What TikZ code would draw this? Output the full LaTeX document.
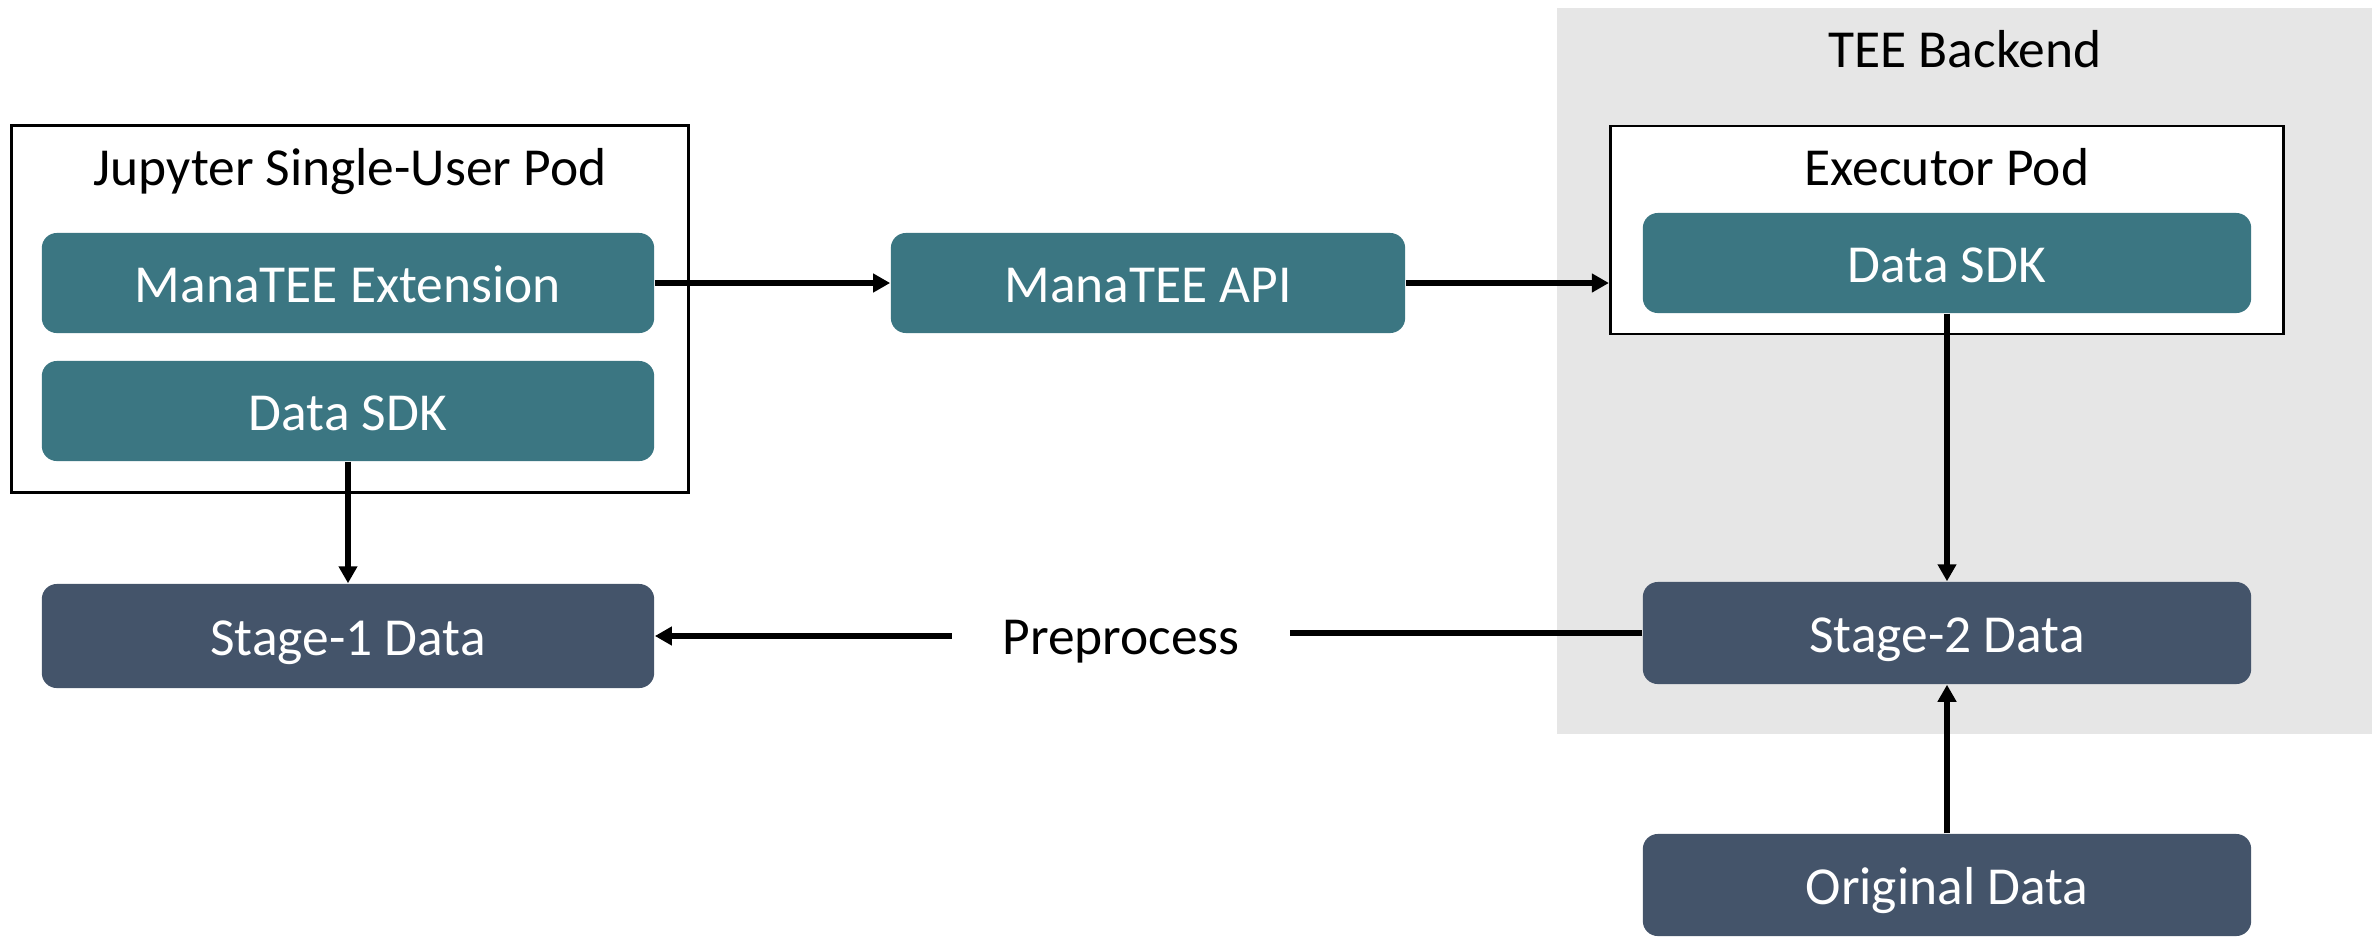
\documentclass[tikz,border=0pt]{standalone}
\usepackage{fontspec}
\setmainfont{Carlito}
\usetikzlibrary{arrows.meta}
\definecolor{tealbox}{HTML}{3B7682}
\definecolor{slatebox}{HTML}{44546A}
\definecolor{teegrey}{HTML}{E6E6E6}
\tikzset{
  txt/.style={font=\fontsize{15.2}{18}\selectfont, text height=1.0em, text depth=0pt},
  boxtxt/.style={font=\fontsize{15.2}{18}\selectfont, text height=1.1em, text depth=0pt},
  tealnode/.style={boxtxt, fill=tealbox, text=white, rounded corners=0.15cm, inner sep=0pt},
  slatenode/.style={boxtxt, fill=slatebox, text=white, rounded corners=0.15cm, inner sep=0pt},
  podbox/.style={draw=black, fill=white, line width=0.8pt, inner sep=0pt},
  titletext/.style={txt, text=black, inner sep=0pt},
  conn/.style={line width=1.5pt, draw=black},
  arr/.style={conn, -{Triangle[length=0.17cm, width=0.18cm]}},
}
\begin{document}
\begin{tikzpicture}[x=0.01cm, y=-0.01cm]
\useasboundingbox (0,0) rectangle (2372,936);
% TEE backend
\node[fill=teegrey, minimum width=8.16cm, minimum height=7.26cm, inner sep=0pt] (tee) at (1965,371) {};
\node[titletext] (teetitle) at (1965,50) {TEE Backend};
% Jupyter pod
\node[podbox, minimum width=6.76cm, minimum height=3.66cm] (jpod) at (350,309) {};
\node[titletext] (jtitle) at (350,168) {Jupyter Single-User Pod};
\node[tealnode, minimum width=6.12cm, minimum height=1.0cm] (ext) at (348,283) {ManaTEE Extension};
\node[tealnode, minimum width=6.12cm, minimum height=1.0cm] (sdka) at (348,411) {Data SDK};
\node[slatenode, minimum width=6.12cm, minimum height=1.04cm] (sone) at (348,636) {Stage-1 Data};
% API
\node[tealnode, minimum width=5.14cm, minimum height=1.0cm] (api) at (1148,283) {ManaTEE API};
% Executor pod
\node[podbox, minimum width=6.73cm, minimum height=2.08cm] (epod) at (1947,230) {};
\node[titletext] (etitle) at (1947,168) {Executor Pod};
\node[tealnode, minimum width=6.08cm, minimum height=1.0cm] (sdkb) at (1947,263) {Data SDK};
\node[slatenode, minimum width=6.08cm, minimum height=1.02cm] (stwo) at (1947,633) {Stage-2 Data};
\node[slatenode, minimum width=6.08cm, minimum height=1.02cm] (orig) at (1947,885) {Original Data};
% Preprocess label
\node[titletext, inner xsep=0.5cm] (pre) at (1121,637) {Preprocess};
% connectors
\draw[arr] (ext.east) -- (api.west);
\draw[arr] (api.east) -- (api.east -| epod.west);
\draw[arr] (sdka.south) -- (sone.north);
\draw[arr] (sdkb.south) -- (stwo.north);
\draw[arr] (orig.north) -- (stwo.south);
\draw[conn] (stwo.west) -- (stwo.west -| pre.east);
\draw[arr] (pre.west |- sone.east) -- (sone.east);
\end{tikzpicture}
\end{document}
